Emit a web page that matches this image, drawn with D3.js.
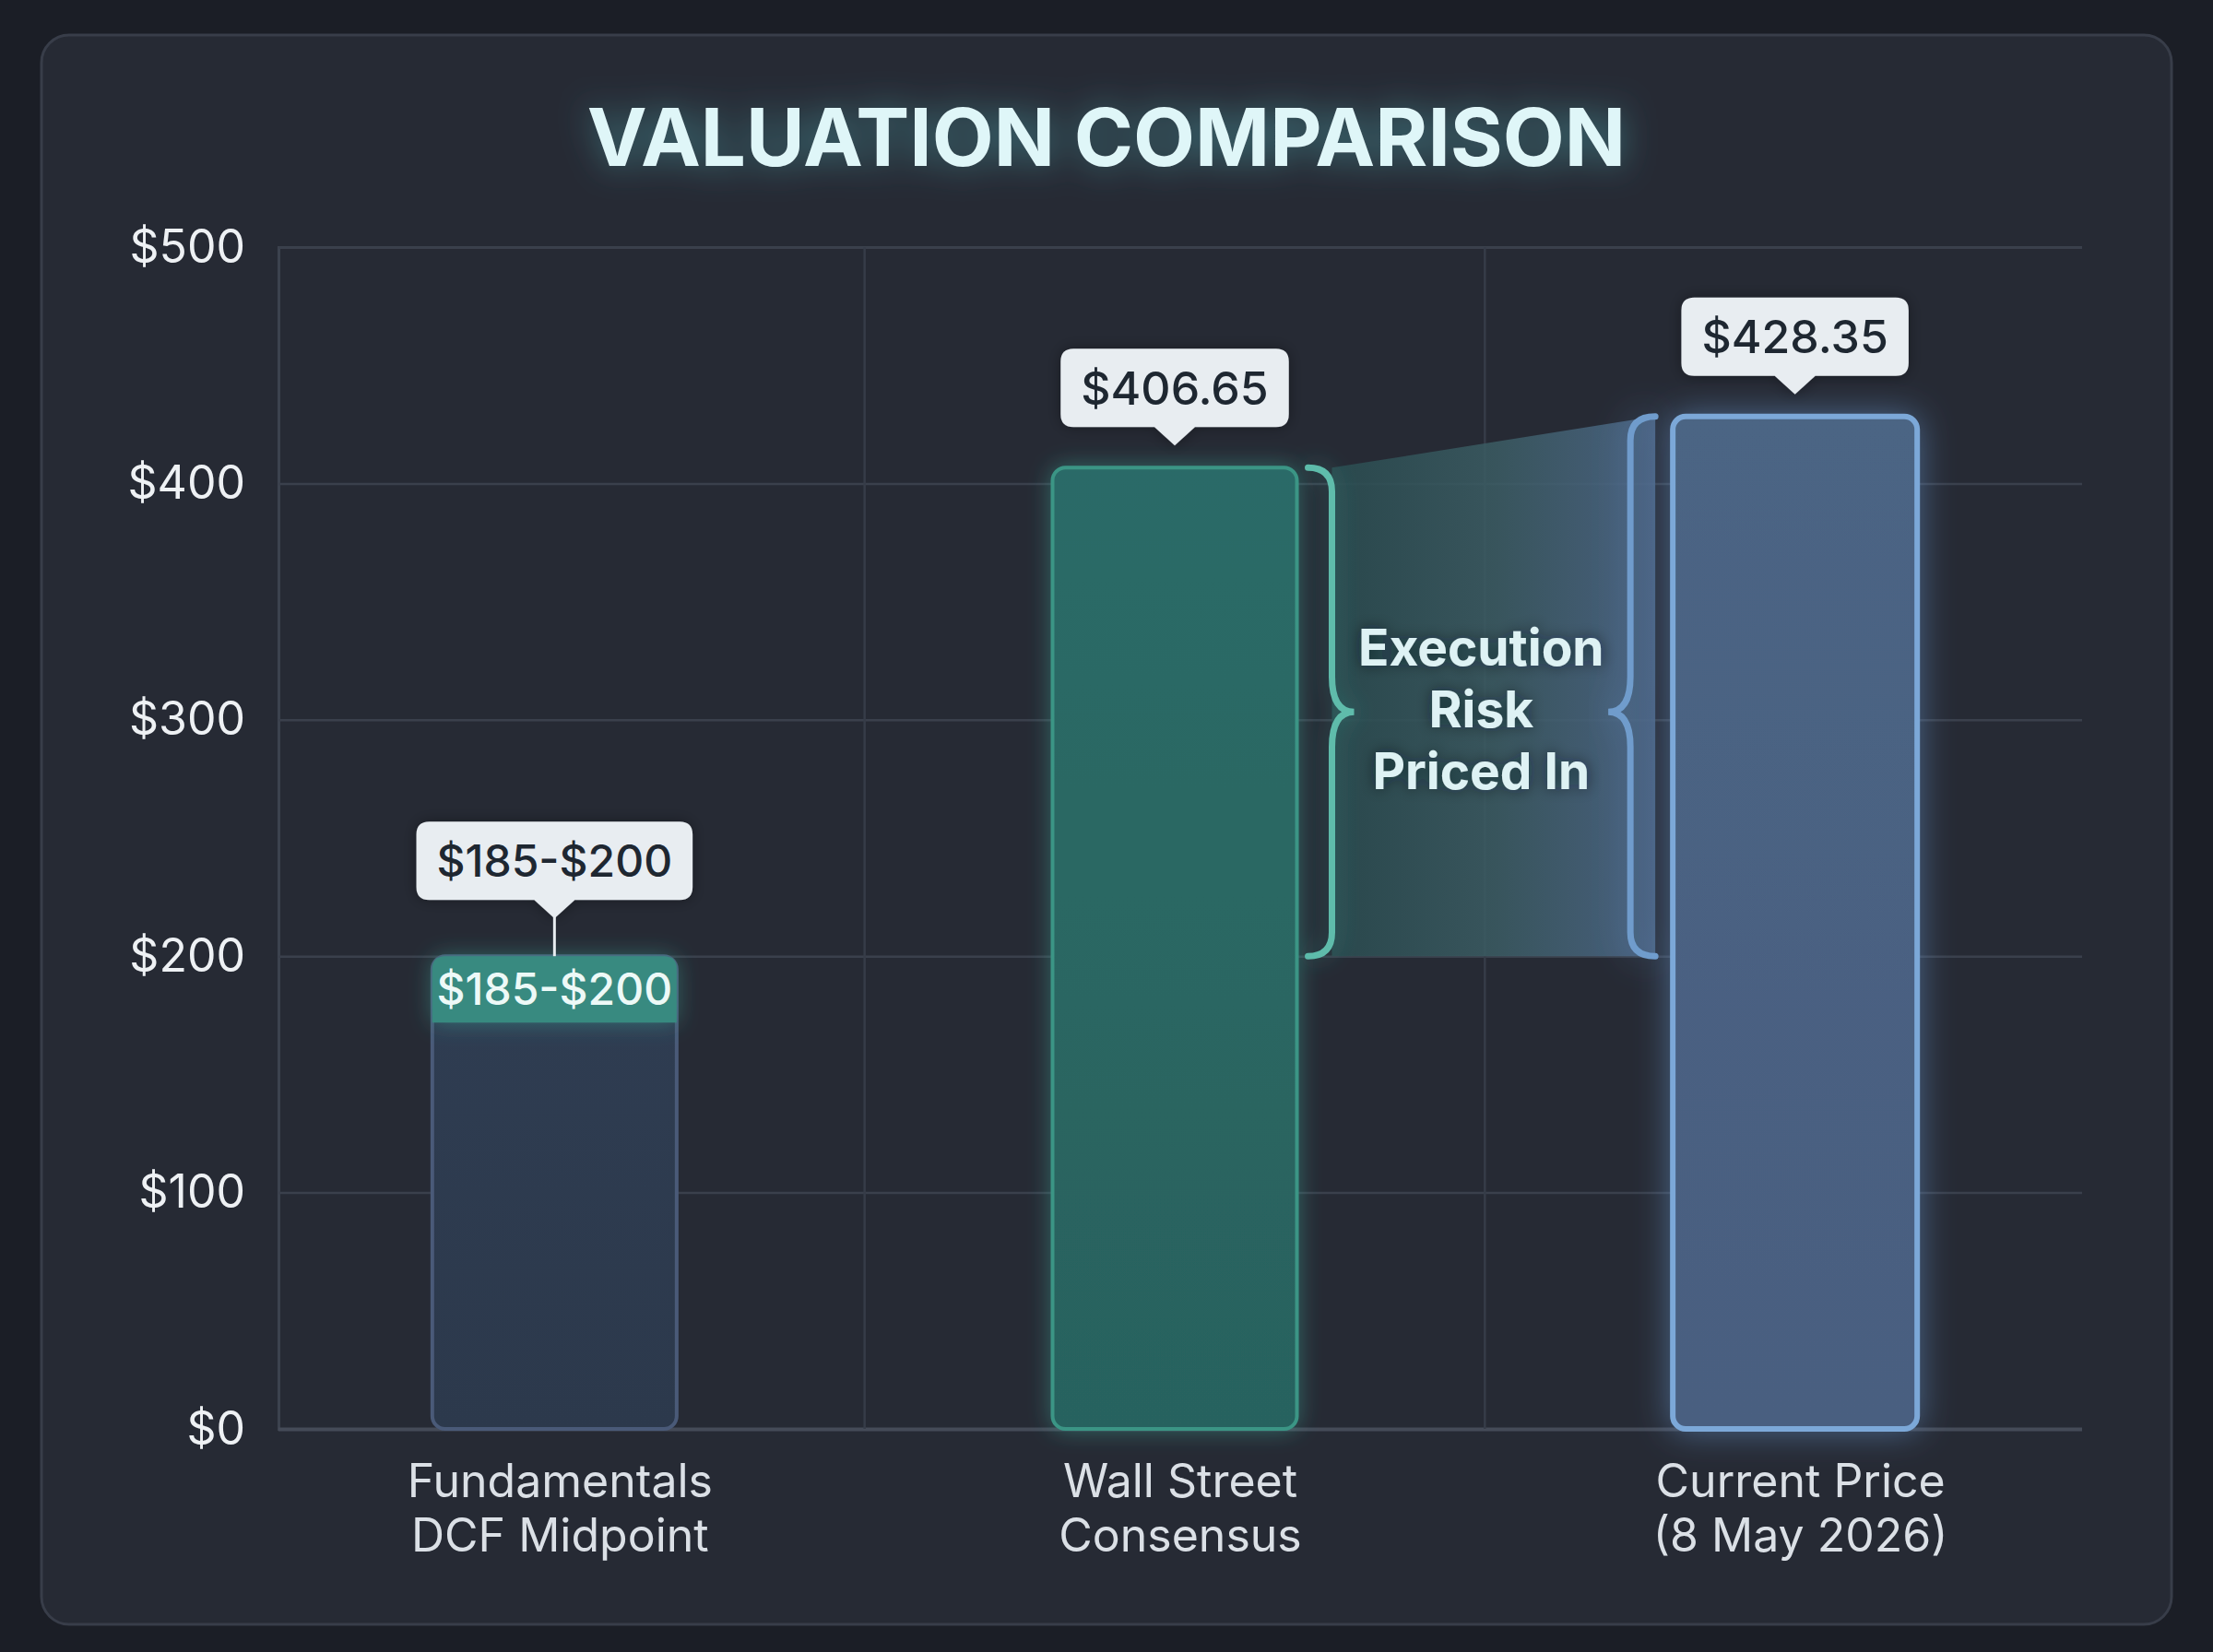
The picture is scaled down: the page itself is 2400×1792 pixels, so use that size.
<!DOCTYPE html>
<html>
<head>
<meta charset="utf-8">
<script src="https://cdn.jsdelivr.net/npm/d3@7"></script>
<style>
  body { margin: 0; background: #1b1e26; }
  svg { display: block; }
</style>
</head>
<body>
<script>
// data
const categories = ["Fundamentals\nDCF Midpoint", "Wall Street\nConsensus", "Current Price\n(8 May 2026)"];
const dcfRange = [185, 200];
const barValues = [200, 406.65, 428.35];
const barLabels = ["$185-$200", "$406.65", "$428.35"];
const yTicks = [0, 100, 200, 300, 400, 500];
const riskText = ["Execution", "Risk", "Priced In"];

const width = 2400, height = 1792;
const font = "Inter, 'Noto Sans', sans-serif";

const barStyle = [
  { fill: ["#2f3d52", "#2c394c"], stroke: "#4a5a78", glow: null },
  { fill: ["#2c6b67", "#28625e"], stroke: "#3a9585", glow: "glowTeal" },
  { fill: ["#4b6584", "#4a5e80"], stroke: "#7ba8d8", glow: "glowBlue" }
];

const svg = d3.select("body").append("svg")
  .attr("width", width)
  .attr("height", height);

const defs = svg.append("defs");

function glow(id, color, std, op) {
  const f = defs.append("filter").attr("id", id)
    .attr("x", "-40%").attr("y", "-40%").attr("width", "180%").attr("height", "180%");
  f.append("feGaussianBlur").attr("in", "SourceAlpha").attr("stdDeviation", std).attr("result", "b");
  f.append("feFlood").attr("flood-color", color).attr("flood-opacity", op);
  f.append("feComposite").attr("in2", "b").attr("operator", "in").attr("result", "g");
  const m = f.append("feMerge");
  m.append("feMergeNode").attr("in", "g");
  m.append("feMergeNode").attr("in", "SourceGraphic");
}
glow("glowTitle", "#5ccfd6", 18, 0.45);
glow("glowBlue", "#6fa3e0", 18, 0.5);
glow("glowTeal", "#3fb4a2", 12, 0.45);
glow("glowText", "#0f1a20", 8, 0.6);
glow("shadow", "#000000", 8, 0.35);

barStyle.forEach((s, i) => {
  const g = defs.append("linearGradient").attr("id", "barGrad" + i)
    .attr("x1", 0).attr("y1", 0).attr("x2", 0).attr("y2", 1);
  g.append("stop").attr("offset", 0).attr("stop-color", s.fill[0]);
  g.append("stop").attr("offset", 1).attr("stop-color", s.fill[1]);
});

const riskGrad = defs.append("linearGradient").attr("id", "riskGrad")
  .attr("x1", 0).attr("y1", 0).attr("x2", 1).attr("y2", 0);
riskGrad.append("stop").attr("offset", 0).attr("stop-color", "#2a4b4f").attr("stop-opacity", 0.9);
riskGrad.append("stop").attr("offset", 0.5).attr("stop-color", "#3b5c63").attr("stop-opacity", 0.85);
riskGrad.append("stop").attr("offset", 1).attr("stop-color", "#4c6586").attr("stop-opacity", 0.9);

// card
svg.append("rect")
  .attr("x", 45).attr("y", 38).attr("width", 2310).attr("height", 1724)
  .attr("rx", 30)
  .attr("fill", "#262a34")
  .attr("stroke", "#383d49").attr("stroke-width", 3);

// title
svg.append("text")
  .attr("x", width / 2).attr("y", 180)
  .attr("text-anchor", "middle")
  .attr("font-family", font).attr("font-weight", 700).attr("font-size", 87)
  .attr("fill", "#dff6f8")
  .attr("filter", "url(#glowTitle)")
  .text("VALUATION COMPARISON");

// scales
const plotLeft = 302, plotRight = 2258;
const y = d3.scaleLinear().domain([0, 500]).range([1550, 268]);
const x = d3.scaleBand().domain(categories).range([265, 2283])
  .paddingInner(0.606).paddingOuter(0.303);
const bw = x.bandwidth();

// y axis + horizontal grid
const yAxis = svg.append("g")
  .attr("transform", `translate(${plotLeft},0)`)
  .call(d3.axisLeft(y).tickValues(yTicks)
    .tickSize(-(plotRight - plotLeft))
    .tickPadding(36)
    .tickFormat(d => "$" + d));
yAxis.select(".domain").attr("stroke", "#3c424e").attr("stroke-width", 3);
yAxis.selectAll(".tick line").attr("stroke", d => d === 0 ? "#454b58" : "#3a404c")
  .attr("stroke-width", d => d === 0 ? 4 : 2.5);
yAxis.selectAll(".tick text")
  .attr("font-family", font).attr("font-size", 50)
  .attr("fill", "#eef1f4");

// vertical grid between categories
const dividers = categories.slice(1).map((c, i) =>
  (x(categories[i]) + bw / 2 + x(c) + bw / 2) / 2);
svg.append("g").selectAll("line").data(dividers).enter().append("line")
  .attr("x1", d => d).attr("x2", d => d)
  .attr("y1", y(500)).attr("y2", y(0))
  .attr("stroke", "#363c48").attr("stroke-width", 2.5);

// execution risk area
const bar2Right = x(categories[1]) + bw;
const bar3Left = x(categories[2]);
const lb = { end: bar2Right + 12, stem: bar2Right + 38, tip: bar2Right + 62 };
const rb = { end: bar3Left - 19, stem: bar3Left - 46, tip: bar3Left - 70 };
const midY = y((dcfRange[1] + barValues[1]) / 2);

svg.append("path")
  .attr("d", d3.line()([
    [lb.stem, y(barValues[1])],
    [rb.end, y(barValues[2])],
    [rb.end, y(dcfRange[1])],
    [lb.stem, y(dcfRange[1])]
  ]) + "Z")
  .attr("fill", "url(#riskGrad)");

function brace(b, yTop, yBot, yMid) {
  const p = d3.path();
  const r = 26, r2 = 38;
  p.moveTo(b.end, yTop);
  p.quadraticCurveTo(b.stem, yTop, b.stem, yTop + r);
  p.lineTo(b.stem, yMid - r2);
  p.quadraticCurveTo(b.stem, yMid, b.tip, yMid);
  p.quadraticCurveTo(b.stem, yMid, b.stem, yMid + r2);
  p.lineTo(b.stem, yBot - r);
  p.quadraticCurveTo(b.stem, yBot, b.end, yBot);
  return p.toString();
}

svg.append("path")
  .attr("d", brace(lb, y(barValues[1]), y(dcfRange[1]), midY))
  .attr("fill", "none").attr("stroke", "#5fbcab").attr("stroke-width", 7)
  .attr("stroke-linecap", "round")
  .attr("filter", "url(#glowTeal)");
svg.append("path")
  .attr("d", brace(rb, y(barValues[2]), y(dcfRange[1]), midY))
  .attr("fill", "none").attr("stroke", "#6f9ccc").attr("stroke-width", 7)
  .attr("stroke-linecap", "round")
  .attr("filter", "url(#glowBlue)");

svg.append("text")
  .attr("x", (lb.stem + rb.stem) / 2).attr("y", midY)
  .attr("text-anchor", "middle")
  .attr("font-family", font).attr("font-weight", 700).attr("font-size", 55)
  .attr("fill", "#def2f4")
  .attr("filter", "url(#glowText)")
  .selectAll("tspan").data(riskText).enter().append("tspan")
  .attr("x", (lb.stem + rb.stem) / 2)
  .attr("dy", (d, i) => i === 0 ? -67 + 17 : 67)
  .text(d => d);

// bars
svg.append("g").selectAll("rect").data(categories).enter().append("rect")
  .attr("x", d => x(d))
  .attr("y", (d, i) => y(barValues[i]))
  .attr("width", bw)
  .attr("height", (d, i) => y(0) - y(barValues[i]))
  .attr("rx", 14)
  .attr("fill", (d, i) => `url(#barGrad${i})`)
  .attr("stroke", (d, i) => barStyle[i].stroke)
  .attr("stroke-width", (d, i) => i === 2 ? 6 : 4)
  .attr("filter", (d, i) => barStyle[i].glow ? `url(#${barStyle[i].glow})` : null);

// DCF range cap on first bar
const capH = 72;
const cx0 = x(categories[0]);
const capTop = y(dcfRange[1]);
const cap = d3.path();
cap.moveTo(cx0, capTop + capH);
cap.lineTo(cx0, capTop + 14);
cap.quadraticCurveTo(cx0, capTop, cx0 + 14, capTop);
cap.lineTo(cx0 + bw - 14, capTop);
cap.quadraticCurveTo(cx0 + bw, capTop, cx0 + bw, capTop + 14);
cap.lineTo(cx0 + bw, capTop + capH);
cap.closePath();
svg.append("path").attr("d", cap.toString())
  .attr("fill", "#398a80")
  .attr("filter", "url(#glowTeal)");
svg.append("text")
  .attr("x", cx0 + bw / 2).attr("y", capTop + capH / 2)
  .attr("dy", "0.36em")
  .attr("text-anchor", "middle")
  .attr("font-family", font).attr("font-weight", 500).attr("font-size", 48)
  .attr("fill", "#edf9f7")
  .text(barLabels[0]);

// tooltips
const tipH = 85, arrow = 20, arrowW = 22;
categories.forEach((c, i) => {
  const cx = x(c) + bw / 2;
  const top = y(i === 0 ? dcfRange[1] : barValues[i]);
  const gap = i === 0 ? 61 : 44;
  const boxBottom = top - gap;
  const g = svg.append("g");
  const t = g.append("text")
    .attr("x", cx).attr("y", boxBottom - tipH / 2)
    .attr("dy", "0.36em")
    .attr("text-anchor", "middle")
    .attr("font-family", font).attr("font-weight", 500)
    .attr("font-size", i === 0 ? 48 : 50)
    .attr("fill", "#1e2731")
    .text(barLabels[i]);
  const tw = t.node().getComputedTextLength() + 44;
  const p = d3.path();
  const r = 14, l = cx - tw / 2, rgt = cx + tw / 2, tp = boxBottom - tipH;
  p.moveTo(l + r, tp);
  p.lineTo(rgt - r, tp);
  p.quadraticCurveTo(rgt, tp, rgt, tp + r);
  p.lineTo(rgt, boxBottom - r);
  p.quadraticCurveTo(rgt, boxBottom, rgt - r, boxBottom);
  p.lineTo(cx + arrowW, boxBottom);
  p.lineTo(cx, boxBottom + arrow);
  p.lineTo(cx - arrowW, boxBottom);
  p.lineTo(l + r, boxBottom);
  p.quadraticCurveTo(l, boxBottom, l, boxBottom - r);
  p.lineTo(l, tp + r);
  p.quadraticCurveTo(l, tp, l + r, tp);
  p.closePath();
  g.insert("path", "text").attr("d", p.toString())
    .attr("fill", "#e8edf1")
    .attr("filter", "url(#shadow)");
  if (i === 0) {
    g.append("line")
      .attr("x1", cx).attr("x2", cx)
      .attr("y1", boxBottom + arrow - 2).attr("y2", top)
      .attr("stroke", "#e8edf1").attr("stroke-width", 3);
  }
});

// x labels
svg.append("g").selectAll("text").data(categories).enter().append("text")
  .attr("x", d => x(d) + bw / 2 + 6)
  .attr("y", 1624)
  .attr("text-anchor", "middle")
  .attr("font-family", font).attr("font-size", 50)
  .attr("fill", "#dbe0e6")
  .selectAll("tspan").data(d => d.split("\n")).enter().append("tspan")
  .attr("x", function () { return d3.select(this.parentNode).attr("x"); })
  .attr("dy", (d, i) => i === 0 ? 0 : 59)
  .text(d => d);
</script>
</body>
</html>
